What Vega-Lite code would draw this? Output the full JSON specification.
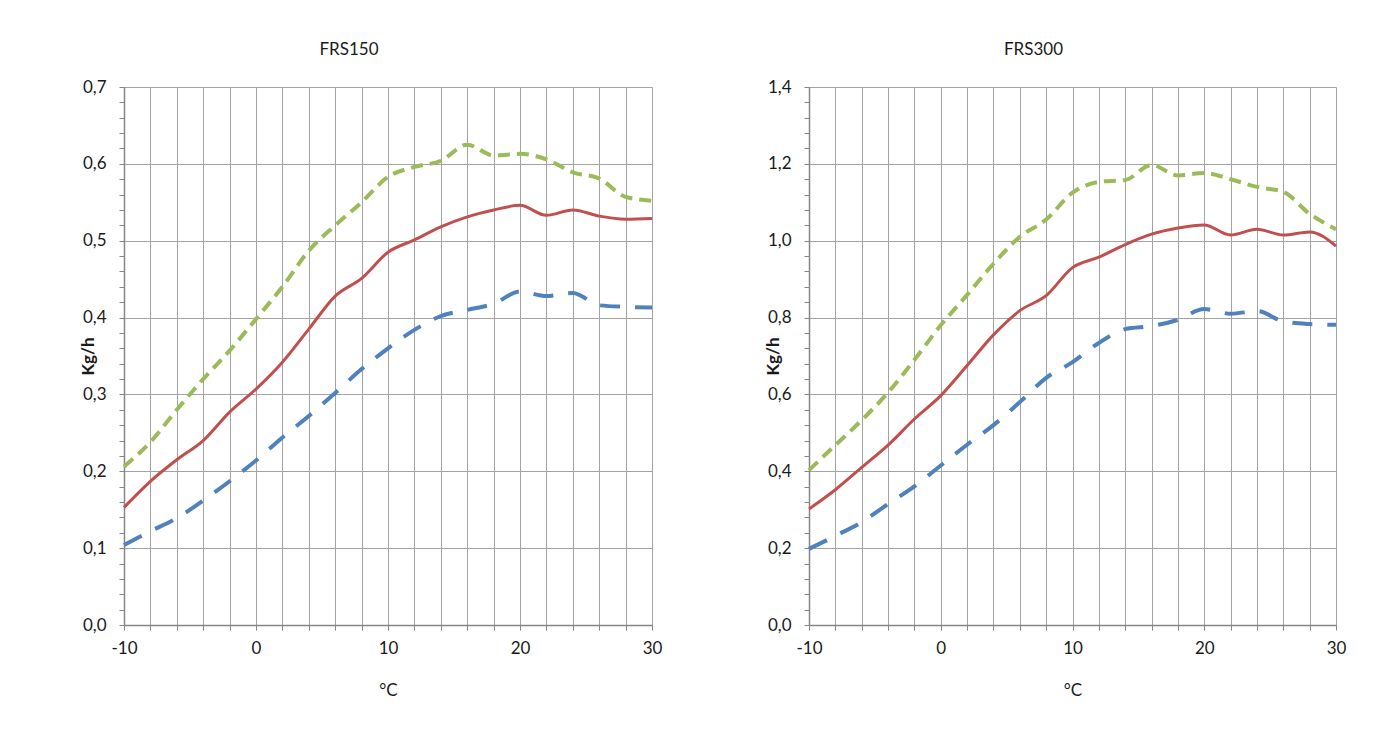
{
  "$schema": "https://vega.github.io/schema/vega-lite/v6.json",
  "background": "white",
  "padding": {"left": 79, "top": 41, "right": 5, "bottom": 5},
  "spacing": 102,
  "datasets": {
    "d": [
      {"panel":"FRS150","s":"upper","t":-10,"v":0.206},{"panel":"FRS150","s":"upper","t":-8,"v":0.238},{"panel":"FRS150","s":"upper","t":-6,"v":0.28},{"panel":"FRS150","s":"upper","t":-4,"v":0.32},{"panel":"FRS150","s":"upper","t":-2,"v":0.357},{"panel":"FRS150","s":"upper","t":0,"v":0.398},{"panel":"FRS150","s":"upper","t":2,"v":0.44},{"panel":"FRS150","s":"upper","t":4,"v":0.487},{"panel":"FRS150","s":"upper","t":6,"v":0.52},{"panel":"FRS150","s":"upper","t":8,"v":0.55},{"panel":"FRS150","s":"upper","t":10,"v":0.583},{"panel":"FRS150","s":"upper","t":12,"v":0.596},{"panel":"FRS150","s":"upper","t":14,"v":0.604},{"panel":"FRS150","s":"upper","t":16,"v":0.625},{"panel":"FRS150","s":"upper","t":18,"v":0.611},{"panel":"FRS150","s":"upper","t":20,"v":0.613},{"panel":"FRS150","s":"upper","t":22,"v":0.606},{"panel":"FRS150","s":"upper","t":24,"v":0.589},{"panel":"FRS150","s":"upper","t":26,"v":0.581},{"panel":"FRS150","s":"upper","t":28,"v":0.557},{"panel":"FRS150","s":"upper","t":30,"v":0.552},
      {"panel":"FRS150","s":"mid","t":-10,"v":0.153},{"panel":"FRS150","s":"mid","t":-8,"v":0.187},{"panel":"FRS150","s":"mid","t":-6,"v":0.215},{"panel":"FRS150","s":"mid","t":-4,"v":0.24},{"panel":"FRS150","s":"mid","t":-2,"v":0.277},{"panel":"FRS150","s":"mid","t":0,"v":0.307},{"panel":"FRS150","s":"mid","t":2,"v":0.342},{"panel":"FRS150","s":"mid","t":4,"v":0.385},{"panel":"FRS150","s":"mid","t":6,"v":0.428},{"panel":"FRS150","s":"mid","t":8,"v":0.451},{"panel":"FRS150","s":"mid","t":10,"v":0.485},{"panel":"FRS150","s":"mid","t":12,"v":0.501},{"panel":"FRS150","s":"mid","t":14,"v":0.518},{"panel":"FRS150","s":"mid","t":16,"v":0.531},{"panel":"FRS150","s":"mid","t":18,"v":0.54},{"panel":"FRS150","s":"mid","t":20,"v":0.546},{"panel":"FRS150","s":"mid","t":22,"v":0.533},{"panel":"FRS150","s":"mid","t":24,"v":0.54},{"panel":"FRS150","s":"mid","t":26,"v":0.532},{"panel":"FRS150","s":"mid","t":28,"v":0.528},{"panel":"FRS150","s":"mid","t":30,"v":0.529},
      {"panel":"FRS150","s":"lower","t":-10,"v":0.104},{"panel":"FRS150","s":"lower","t":-8,"v":0.122},{"panel":"FRS150","s":"lower","t":-6,"v":0.139},{"panel":"FRS150","s":"lower","t":-4,"v":0.162},{"panel":"FRS150","s":"lower","t":-2,"v":0.187},{"panel":"FRS150","s":"lower","t":0,"v":0.214},{"panel":"FRS150","s":"lower","t":2,"v":0.244},{"panel":"FRS150","s":"lower","t":4,"v":0.272},{"panel":"FRS150","s":"lower","t":6,"v":0.302},{"panel":"FRS150","s":"lower","t":8,"v":0.333},{"panel":"FRS150","s":"lower","t":10,"v":0.36},{"panel":"FRS150","s":"lower","t":12,"v":0.384},{"panel":"FRS150","s":"lower","t":14,"v":0.402},{"panel":"FRS150","s":"lower","t":16,"v":0.41},{"panel":"FRS150","s":"lower","t":18,"v":0.418},{"panel":"FRS150","s":"lower","t":20,"v":0.434},{"panel":"FRS150","s":"lower","t":22,"v":0.428},{"panel":"FRS150","s":"lower","t":24,"v":0.432},{"panel":"FRS150","s":"lower","t":26,"v":0.416},{"panel":"FRS150","s":"lower","t":28,"v":0.414},{"panel":"FRS150","s":"lower","t":30,"v":0.413},
      {"panel":"FRS300","s":"upper","t":-10,"v":0.403},{"panel":"FRS300","s":"upper","t":-8,"v":0.468},{"panel":"FRS300","s":"upper","t":-6,"v":0.533},{"panel":"FRS300","s":"upper","t":-4,"v":0.605},{"panel":"FRS300","s":"upper","t":-2,"v":0.69},{"panel":"FRS300","s":"upper","t":0,"v":0.78},{"panel":"FRS300","s":"upper","t":2,"v":0.859},{"panel":"FRS300","s":"upper","t":4,"v":0.94},{"panel":"FRS300","s":"upper","t":6,"v":1.01},{"panel":"FRS300","s":"upper","t":8,"v":1.055},{"panel":"FRS300","s":"upper","t":10,"v":1.125},{"panel":"FRS300","s":"upper","t":12,"v":1.153},{"panel":"FRS300","s":"upper","t":14,"v":1.158},{"panel":"FRS300","s":"upper","t":16,"v":1.197},{"panel":"FRS300","s":"upper","t":18,"v":1.17},{"panel":"FRS300","s":"upper","t":20,"v":1.176},{"panel":"FRS300","s":"upper","t":22,"v":1.16},{"panel":"FRS300","s":"upper","t":24,"v":1.14},{"panel":"FRS300","s":"upper","t":26,"v":1.127},{"panel":"FRS300","s":"upper","t":28,"v":1.07},{"panel":"FRS300","s":"upper","t":30,"v":1.03},
      {"panel":"FRS300","s":"mid","t":-10,"v":0.302},{"panel":"FRS300","s":"mid","t":-8,"v":0.352},{"panel":"FRS300","s":"mid","t":-6,"v":0.41},{"panel":"FRS300","s":"mid","t":-4,"v":0.468},{"panel":"FRS300","s":"mid","t":-2,"v":0.536},{"panel":"FRS300","s":"mid","t":0,"v":0.597},{"panel":"FRS300","s":"mid","t":2,"v":0.675},{"panel":"FRS300","s":"mid","t":4,"v":0.755},{"panel":"FRS300","s":"mid","t":6,"v":0.818},{"panel":"FRS300","s":"mid","t":8,"v":0.857},{"panel":"FRS300","s":"mid","t":10,"v":0.93},{"panel":"FRS300","s":"mid","t":12,"v":0.957},{"panel":"FRS300","s":"mid","t":14,"v":0.99},{"panel":"FRS300","s":"mid","t":16,"v":1.017},{"panel":"FRS300","s":"mid","t":18,"v":1.033},{"panel":"FRS300","s":"mid","t":20,"v":1.041},{"panel":"FRS300","s":"mid","t":22,"v":1.015},{"panel":"FRS300","s":"mid","t":24,"v":1.03},{"panel":"FRS300","s":"mid","t":26,"v":1.015},{"panel":"FRS300","s":"mid","t":28,"v":1.023},{"panel":"FRS300","s":"mid","t":30,"v":0.986},
      {"panel":"FRS300","s":"lower","t":-10,"v":0.198},{"panel":"FRS300","s":"lower","t":-8,"v":0.232},{"panel":"FRS300","s":"lower","t":-6,"v":0.268},{"panel":"FRS300","s":"lower","t":-4,"v":0.315},{"panel":"FRS300","s":"lower","t":-2,"v":0.361},{"panel":"FRS300","s":"lower","t":0,"v":0.415},{"panel":"FRS300","s":"lower","t":2,"v":0.469},{"panel":"FRS300","s":"lower","t":4,"v":0.52},{"panel":"FRS300","s":"lower","t":6,"v":0.58},{"panel":"FRS300","s":"lower","t":8,"v":0.643},{"panel":"FRS300","s":"lower","t":10,"v":0.684},{"panel":"FRS300","s":"lower","t":12,"v":0.734},{"panel":"FRS300","s":"lower","t":14,"v":0.77},{"panel":"FRS300","s":"lower","t":16,"v":0.778},{"panel":"FRS300","s":"lower","t":18,"v":0.794},{"panel":"FRS300","s":"lower","t":20,"v":0.822},{"panel":"FRS300","s":"lower","t":22,"v":0.81},{"panel":"FRS300","s":"lower","t":24,"v":0.817},{"panel":"FRS300","s":"lower","t":26,"v":0.79},{"panel":"FRS300","s":"lower","t":28,"v":0.783},{"panel":"FRS300","s":"lower","t":30,"v":0.781}
    ]
  },
  "config": {
    "font": "Lato",
    "view": {"stroke": null},
    "axis": {
      "labelFont": "Lato", "labelFontSize": 17, "labelColor": "#1a1a1a",
      "titleFont": "Lato", "titleFontSize": 17, "titleColor": "#1a1a1a", "titleFontWeight": "normal",
      "gridColor": "#a3a3a3", "gridOpacity": 1, "gridWidth": 1,
      "domainColor": "#868686", "domainWidth": 1.5,
      "tickColor": "#868686", "tickWidth": 1
    },
    "title": {"font": "Lato", "fontSize": 17, "fontWeight": "normal", "color": "#1a1a1a", "offset": 19, "dx": -39}
  },
  "hconcat": [
    {
      "title": "FRS150",
      "width": 528, "height": 538,
      "data": {"name": "d"},
      "transform": [{"filter": "datum.panel == 'FRS150'"}],
      "encoding": {
        "x": {"field": "t", "type": "quantitative",
          "scale": {"domain": [-10, 30], "nice": false, "zero": false},
          "axis": {"values": [-10,-8,-6,-4,-2,0,2,4,6,8,10,12,14,16,18,20,22,24,26,28,30],
            "labelExpr": "datum.value % 10 == 0 ? toString(datum.value) : ''",
            "labelFlush": false, "labelOverlap": false, "title": "°C", "grid": true,
            "tickSize": 5, "labelPadding": 10, "titlePadding": 26}}
      },
      "layer": [
        {"transform": [{"filter": "datum.s == 'lower'"}],
         "mark": {"type": "line", "color": "#4F81BD", "strokeWidth": 4, "strokeDash": [20, 15], "interpolate": "monotone"},
         "encoding": {"y": {"field": "v", "type": "quantitative", "scale": {"domain": [0, 0.7], "nice": false},
           "axis": {"orient": "left", "values": [0,0.1,0.2,0.3,0.4,0.5,0.6,0.7], "ticks": false, "grid": true,
             "labelExpr": "replace(format(datum.value, '.1f'), '.', ',')", "labelPadding": 18,
             "title": "Kg/h", "titleFontWeight": "bold", "titleX": -36, "titleBaseline": "middle"}}}},
        {"transform": [{"filter": "datum.s == 'mid'"}],
         "mark": {"type": "line", "color": "#C0504D", "strokeWidth": 3, "interpolate": "monotone"},
         "encoding": {"y": {"field": "v", "type": "quantitative",
           "axis": {"orient": "left", "values": [0,0.02,0.04,0.06,0.08,0.1,0.12,0.14,0.16,0.18,0.2,0.22,0.24,0.26,0.28,0.3,0.32,0.34,0.36,0.38,0.4,0.42,0.44,0.46,0.48,0.5,0.52,0.54,0.56,0.58,0.6,0.62,0.64,0.66,0.68,0.7],
             "labels": false, "grid": false, "domain": false, "ticks": true, "tickSize": 5, "title": null}}}},
        {"transform": [{"filter": "datum.s == 'upper'"}],
         "mark": {"type": "line", "color": "#9BBB59", "strokeWidth": 4, "strokeDash": [12, 7], "interpolate": "monotone"},
         "encoding": {"y": {"field": "v", "type": "quantitative", "axis": null}}}
      ],
      "resolve": {"axis": {"y": "independent"}}
    },
    {
      "title": "FRS300",
      "width": 527, "height": 538,
      "data": {"name": "d"},
      "transform": [{"filter": "datum.panel == 'FRS300'"}],
      "encoding": {
        "x": {"field": "t", "type": "quantitative",
          "scale": {"domain": [-10, 30], "nice": false, "zero": false},
          "axis": {"values": [-10,-8,-6,-4,-2,0,2,4,6,8,10,12,14,16,18,20,22,24,26,28,30],
            "labelExpr": "datum.value % 10 == 0 ? toString(datum.value) : ''",
            "labelFlush": false, "labelOverlap": false, "title": "°C", "grid": true,
            "tickSize": 5, "labelPadding": 10, "titlePadding": 26}}
      },
      "layer": [
        {"transform": [{"filter": "datum.s == 'lower'"}],
         "mark": {"type": "line", "color": "#4F81BD", "strokeWidth": 4, "strokeDash": [20, 15], "interpolate": "monotone"},
         "encoding": {"y": {"field": "v", "type": "quantitative", "scale": {"domain": [0, 1.4], "nice": false},
           "axis": {"orient": "left", "values": [0,0.2,0.4,0.6,0.8,1.0,1.2,1.4], "ticks": false, "grid": true,
             "labelExpr": "replace(format(datum.value, '.1f'), '.', ',')", "labelPadding": 18,
             "title": "Kg/h", "titleFontWeight": "bold", "titleX": -36, "titleBaseline": "middle"}}}},
        {"transform": [{"filter": "datum.s == 'mid'"}],
         "mark": {"type": "line", "color": "#C0504D", "strokeWidth": 3, "interpolate": "monotone"},
         "encoding": {"y": {"field": "v", "type": "quantitative",
           "axis": {"orient": "left", "values": [0,0.04,0.08,0.12,0.16,0.2,0.24,0.28,0.32,0.36,0.4,0.44,0.48,0.52,0.56,0.6,0.64,0.68,0.72,0.76,0.8,0.84,0.88,0.92,0.96,1.0,1.04,1.08,1.12,1.16,1.2,1.24,1.28,1.32,1.36,1.4],
             "labels": false, "grid": false, "domain": false, "ticks": true, "tickSize": 5, "title": null}}}},
        {"transform": [{"filter": "datum.s == 'upper'"}],
         "mark": {"type": "line", "color": "#9BBB59", "strokeWidth": 4, "strokeDash": [12, 7], "interpolate": "monotone"},
         "encoding": {"y": {"field": "v", "type": "quantitative", "axis": null}}}
      ],
      "resolve": {"axis": {"y": "independent"}}
    }
  ]
}
